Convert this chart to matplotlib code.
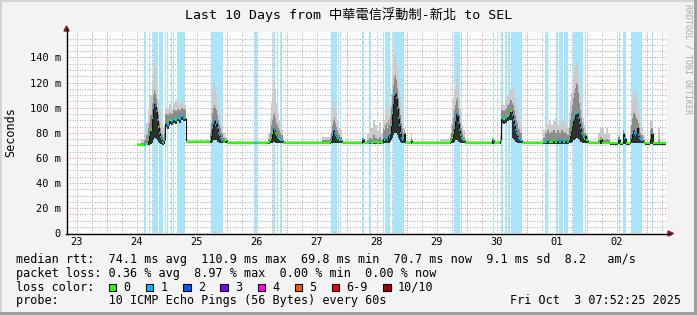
import matplotlib
matplotlib.use("Agg")
import matplotlib.pyplot as plt
from matplotlib.collections import LineCollection
from matplotlib.patches import Rectangle, Polygon
import numpy as np

W, H = 697, 315

# 24-minute RRA bins counted from Tue Sep 23 00:00 (60 bins per day)
bins = [
    90, 94, 97, 99, 101, 102, 103, 105, 106, 107, 108, 109, 110, 111, 112, 113, 114, 115, 116, 117,
    118, 120, 122, 124, 126, 128, 130, 132, 134, 136, 138, 139,
    163, 164, 165, 166, 167, 168, 169, 170, 171, 172, 173, 174, 176, 178, 180, 207, 210,
    221, 223, 224, 225, 226, 227, 228, 229, 230, 231, 232, 233, 234, 236,
    275, 283, 284, 285, 286, 287, 288, 289, 290, 291, 292, 293, 295,
    315, 317, 320, 322, 324, 326, 328, 330, 332, 334,
    336, 337, 338, 339, 340, 341, 342, 343, 344, 345, 346, 347, 348, 349, 350, 351, 352, 353, 354, 355, 356, 357, 358,
    364, 365, 393,
    403, 404, 405, 406, 407, 408, 409, 410, 411, 412, 413, 414, 415, 416, 418,
    445, 446, 447,
    453, 454, 456, 458, 460, 462, 463, 465, 466, 467, 468, 469, 470, 471, 472, 473, 475,
    496, 498, 500, 502, 504, 506, 508, 510, 512, 514, 516, 518, 520,
    522, 523, 524, 525, 526, 527, 528, 529, 530, 531, 532, 533, 534, 535, 536, 537, 538, 539, 541,
    551, 553, 555, 557, 559, 561, 563, 571, 573, 576, 577, 579,
    583, 584, 585, 586, 587, 588, 589, 590, 591, 592, 593, 594, 596, 598,
    603, 604, 606, 611, 613, 619,
]

# median rtt (ms)
median = [
    70.5, 70.5, 71, 71, 74, 78, 82, 92, 100, 104, 101, 97, 90, 85, 80, 77, 75, 73, 72, 74,
    88, 86, 90, 89, 91, 90, 92, 91, 93, 92, 92, 72.5,
    74, 78, 84, 88, 90, 86, 88, 84, 80, 78, 76, 74, 73, 74, 72, 72, 72,
    72.5, 74, 76, 80, 84, 82, 80, 78, 77, 76, 75, 74, 74, 72,
    72, 73, 74, 78, 82, 80, 78, 77, 75, 76, 74, 74, 72,
    75, 72, 72, 73, 72, 73, 73, 72, 73, 72,
    76, 74, 75, 76, 74, 78, 77, 80, 86, 96, 104, 110, 112, 108, 100, 92, 86, 80, 76, 74, 75, 80, 72,
    74, 72, 72,
    73, 74, 76, 80, 84, 90, 96, 94, 88, 82, 78, 76, 75, 74, 72,
    75, 74, 72,
    74, 92, 91, 92, 93, 95, 97, 94, 90, 86, 82, 80, 78, 76, 75, 74, 72,
    72.5, 73, 74, 73, 73, 74, 73, 74, 73, 74, 73, 74, 73,
    75, 78, 82, 86, 90, 92, 95, 96, 96, 92, 88, 84, 80, 78, 77, 75, 78, 74, 72,
    72, 75, 72, 72, 72, 72, 71.5, 75, 71.5, 80, 76, 71.5,
    73, 76, 80, 82, 80, 78, 80, 85, 78, 76, 75, 74, 72, 71.5,
    76, 80, 71.5, 71.5, 71.5, 71.5,
]

# fastest ping of the bin (ms)
ping_lo = [
    69.5, 69.5, 70, 70, 70, 70.5, 71, 72, 74, 76, 76, 75, 74, 73, 72, 71, 71, 70, 70, 71,
    85, 83, 87, 86, 88, 87, 89, 88, 90, 89, 89, 71.5,
    72, 72, 73, 74, 74, 74, 74, 73, 73, 72, 72, 72, 72, 72, 71, 71, 71,
    71, 71.5, 72, 72, 73, 73, 72, 72, 72, 72, 72, 71.5, 71.5, 71,
    71, 71, 71.5, 72, 72, 72, 72, 72, 71.5, 72, 71.5, 71.5, 71,
    71.5, 71, 71, 71, 71, 71, 71, 71, 71, 71,
    72, 72, 72, 72, 72, 72, 72, 73, 74, 76, 78, 80, 80, 80, 78, 76, 74, 73, 72, 72, 72, 72, 71,
    71, 71, 71,
    71, 71.5, 72, 72, 73, 74, 74, 74, 73, 73, 72, 72, 72, 71.5, 71,
    71, 71, 71,
    71, 88, 87, 88, 89, 90, 90, 76, 75, 74, 73, 73, 72, 72, 72, 71.5, 71,
    71, 71, 71, 71, 71, 71, 71, 71, 71, 71, 71, 71, 71,
    71.5, 72, 72, 73, 74, 74, 75, 76, 76, 75, 74, 73, 73, 72, 72, 72, 72, 71.5, 71,
    71, 71, 71, 71, 71, 71, 70.5, 71, 70.5, 71, 71, 70.5,
    71, 71.5, 72, 72, 72, 72, 72, 72, 72, 72, 71.5, 71.5, 71, 70.5,
    71, 71, 70.5, 70.5, 70.5, 70.5,
]

# upper quartile of the pings (ms)
ping_mid = [
    71, 72, 74, 78, 84, 88, 94, 104, 110, 114, 112, 108, 100, 95, 88, 84, 80, 78, 76, 80,
    95, 94, 96, 95, 98, 97, 99, 98, 100, 99, 98, 73,
    80, 88, 96, 100, 102, 100, 98, 94, 90, 86, 84, 80, 76, 75, 72.8, 72.8, 72.8,
    75, 80, 86, 90, 94, 96, 92, 88, 86, 84, 82, 80, 78, 72.8,
    74, 76, 80, 86, 90, 92, 88, 85, 82, 80, 78, 77, 72.8,
    76, 72.8, 74, 76, 75, 78, 76, 75, 77, 74,
    84, 82, 86, 88, 84, 90, 86, 92, 100, 110, 118, 124, 126, 122, 116, 108, 100, 94, 88, 84, 80, 82, 72.8,
    76, 72.8, 73,
    76, 80, 86, 92, 98, 102, 106, 108, 100, 94, 88, 84, 80, 77, 72.8,
    76, 75, 72.8,
    76, 98, 97, 99, 102, 104, 106, 104, 102, 98, 94, 90, 88, 84, 82, 80, 72.8,
    76, 80, 82, 80, 81, 82, 80, 82, 80, 82, 81, 80, 78,
    84, 90, 96, 102, 108, 112, 116, 120, 118, 112, 104, 98, 92, 88, 84, 80, 80, 77, 72.8,
    74, 77, 75, 74, 75, 74, 72.3, 77, 72.3, 82, 78, 72.3,
    78, 86, 92, 96, 96, 94, 92, 90, 88, 84, 80, 78, 74, 72.3,
    82, 84, 72.3, 74, 72.3, 72.3,
]

# slowest ping of the bin (ms)
ping_hi = [
    72, 75, 80, 88, 98, 104, 110, 122, 130, 136, 132, 124, 114, 106, 100, 96, 92, 88, 84, 86,
    100, 99, 103, 100, 104, 106, 104, 103, 105, 103, 102, 74,
    88, 100, 112, 118, 120, 116, 110, 104, 100, 96, 90, 86, 80, 77, 73.5, 73.5, 73.5,
    80, 92, 104, 112, 118, 122, 114, 104, 100, 96, 90, 86, 82, 73.5,
    77, 80, 92, 100, 104, 106, 100, 96, 90, 86, 84, 82, 73.5,
    77, 73.5, 80, 88, 84, 90, 86, 82, 88, 80,
    96, 90, 100, 104, 96, 100, 94, 102, 112, 124, 134, 142, 144, 138, 130, 122, 114, 106, 98, 92, 86, 84, 73.5,
    80, 73.5, 75,
    80, 88, 100, 108, 114, 116, 124, 136, 116, 108, 100, 92, 86, 82, 73.5,
    77, 76, 73.5,
    80, 104, 102, 106, 110, 112, 114, 116, 116, 114, 108, 104, 100, 94, 90, 86, 73.5,
    82, 88, 86, 90, 86, 89, 92, 86, 90, 87, 91, 86, 84,
    96, 104, 112, 118, 124, 128, 132, 137, 134, 126, 118, 110, 104, 98, 92, 86, 84, 80, 73.5,
    80, 84, 84, 80, 84, 79, 73, 78, 73, 84, 80, 73,
    86, 98, 106, 112, 113, 112, 110, 106, 100, 94, 88, 84, 78, 73,
    90, 90, 73, 84, 73, 73,
]

# pings lost out of 10
lost = [
    0, 0, 1, 0, 0, 1, 0, 0, 1, 1, 1, 1, 1, 0, 1, 1, 1, 1, 0, 0,
    1, 1, 0, 1, 1, 0, 1, 1, 1, 1, 0, 0,
    0, 1, 1, 1, 1, 1, 1, 1, 1, 1, 1, 1, 0, 0, 0, 1, 0,
    0, 0, 0, 0, 1, 1, 0, 0, 1, 1, 0, 1, 1, 0,
    0, 0, 1, 1, 1, 1, 1, 1, 0, 1, 0, 1, 0,
    1, 0, 0, 1, 0, 0, 0, 0, 0, 0,
    1, 0, 1, 1, 1, 1, 1, 0, 0, 0, 1, 1, 1, 1, 1, 1, 1, 1, 1, 1, 1, 0, 0,
    0, 0, 0,
    0, 0, 0, 0, 1, 1, 1, 1, 1, 1, 0, 1, 1, 0, 0,
    0, 1, 0,
    0, 1, 0, 1, 0, 1, 0, 1, 1, 1, 1, 1, 1, 1, 1, 1, 0,
    0, 1, 1, 0, 0, 0, 0, 1, 1, 1, 0, 1, 1,
    0, 0, 0, 0, 1, 1, 1, 1, 1, 1, 1, 1, 1, 1, 0, 0, 1, 0, 0,
    0, 0, 0, 0, 0, 0, 0, 1, 0, 1, 1, 0,
    0, 1, 1, 1, 1, 1, 1, 0, 1, 1, 1, 1, 0, 0,
    0, 1, 0, 0, 0, 0,
]

# periods with packet loss (bins)
loss_start = [97.5, 101.7, 105.7, 111.7, 117.7, 120.3, 123.7, 126.3, 129.7, 164, 207.5,
              225.7, 230, 233, 284, 290.7, 293, 315, 322, 335.7, 338, 346, 407, 414, 446,
              454, 458.5, 461.5, 464, 498, 509.5, 512.3, 517.5, 525.7, 538, 571.7, 576.3,
              584, 604.7]
loss_end = [99, 103, 111, 116.3, 118.7, 121.3, 124.7, 127.3, 138.3, 176, 210,
            228, 231.3, 235.3, 290, 292, 294, 317, 323.7, 337.3, 343.5, 357, 413, 415.3, 447,
            456.5, 460, 463, 474.7, 501, 510.7, 516, 521, 536, 539.5, 573.3, 579,
            594.7, 606.3]

day_labels = ["23", "24", "25", "26", "27", "28", "29", "30", "01", "02"]
y_ticks = [0, 20, 40, 60, 80, 100, 120, 140]

loss_names = ["0", "1", "2", "3", "4", "5", "6-9", "10/10"]
loss_colors = ["#26ff00", "#00b8ff", "#0059ff", "#7e00ff", "#ff00ff", "#ff5500", "#ff0000", "#a10000"]
loss_class = [0, 1, 2, 3, 4, 5, 6, 6, 6, 6, 7]

title = "Last 10 Days from 中華電信浮動制-新北 to SEL"
rtt_text = "median rtt:  74.1 ms avg  110.9 ms max  69.8 ms min  70.7 ms now  9.1 ms sd  8.2   am/s"
loss_text = "packet loss: 0.36 % avg  8.97 % max  0.00 % min  0.00 % now"
probe_text = "probe:       10 ICMP Echo Pings (56 Bytes) every 60s"
stamp_text = "Fri Oct  3 07:52:25 2025"

plt.rcParams["font.family"] = "DejaVu Sans Mono"
MONO = "DejaVu Sans Mono"


def fx(x):
    return x / W


def fy(y):
    return 1 - y / H


fig = plt.figure(figsize=(W / 100, H / 100), dpi=100)
fig.patch.set_facecolor("#f3f3f3")
ax = fig.add_axes([fx(66.5), fy(233.3), 600 / W, 201 / H])
ax.set_facecolor("white")
ax.set_xlim(19.7, 619.7)
ax.set_ylim(0, 160)
for s in ax.spines.values():
    s.set_visible(False)

# grid (dotted, red on major)
for b in range(15, 620, 15):
    major = b % 60 == 0
    ax.axvline(b, color="#e08c8c" if major else "#b0b0b0", lw=0.72, ls=(0, (1, 1.5)), zorder=0)
for v in range(5, 160, 5):
    major = v % 20 == 0
    ax.axhline(v, color="#e08c8c" if major else "#b0b0b0", lw=0.72, ls=(0, (1, 1.5)), zorder=0)

# loss background
for s, e in zip(loss_start, loss_end):
    ax.axvspan(s, e, color="#aae4fa", lw=0, zorder=1)

# smoke
x = np.array(bins, dtype=float)
ax.fill_between(x, ping_lo, ping_hi, step="post", color="#cbcbcb", lw=0, zorder=2)
ax.fill_between(x, ping_lo, ping_mid, step="post", color="#8c8c8c", lw=0, zorder=3)
ax.fill_between(x, ping_lo, median, step="post", color="#303030", lw=0, zorder=4)

# median coloured by loss, black risers
segs, cols, risers = [], [], []
for i in range(len(bins) - 1):
    segs.append([(bins[i], median[i]), (bins[i + 1], median[i])])
    cols.append(loss_colors[loss_class[lost[i]]])
    risers.append([(bins[i + 1], median[i]), (bins[i + 1], median[i + 1])])
ax.add_collection(LineCollection(risers, colors="#111111", linewidths=0.8, zorder=5))
ax.add_collection(LineCollection(segs, colors=cols, linewidths=1.6, capstyle="butt", zorder=6))

ax.set_xticks([30 + 60 * k for k in range(len(day_labels))], day_labels)
ax.set_yticks(y_ticks, [f"{v} m" if v else "0" for v in y_ticks])
ax.tick_params(axis="x", length=0, pad=2.5, labelsize=7.5, colors="black")
ax.tick_params(axis="y", length=0, pad=4, labelsize=7.5, colors="black")

# axes with arrows
fig.add_artist(plt.Line2D([fx(66.5), fx(66.5)], [fy(233.5), fy(29)], color="black", lw=1.0))
fig.add_artist(plt.Line2D([fx(66), fx(670)], [fy(233.5), fy(233.5)], color="black", lw=1.0))
fig.add_artist(Polygon([(fx(64), fy(31)), (fx(69), fy(31)), (fx(66.5), fy(26))],
                       closed=True, color="#8c1c1c", transform=fig.transFigure))
fig.add_artist(Polygon([(fx(668), fy(231)), (fx(668), fy(236)), (fx(673.5), fy(233.5))],
                       closed=True, color="#8c1c1c", transform=fig.transFigure))

# frame
fig.add_artist(Rectangle((0, fy(1.5)), 1, 1.5 / H, color="#d4d4d4", transform=fig.transFigure, lw=0))
fig.add_artist(Rectangle((0, 0), 1.5 / W, 1, color="#d4d4d4", transform=fig.transFigure, lw=0))
fig.add_artist(Rectangle((fx(693.5), 0), 3.5 / W, 1, color="#9e9e9e", transform=fig.transFigure, lw=0))
fig.add_artist(Rectangle((0, 0), 1, 3.5 / H, color="#9e9e9e", transform=fig.transFigure, lw=0))

# texts
fig.text(fx(348.5), fy(19.3), title, ha="center", va="baseline", fontsize=9.5,
         family=[MONO, "Noto Sans CJK TC"])
fig.text(fx(10.5), fy(132.5), "Seconds", rotation=90, ha="center", va="center", fontsize=8.5)
fig.text(fx(688), fy(59), "RRDTOOL / TOBI OETIKER", rotation=270, ha="center", va="center",
         fontsize=6, color="#a8a8a8")

fig.text(fx(16), fy(263.3), rtt_text, ha="left", va="baseline", fontsize=8.5)
fig.text(fx(16), fy(277), loss_text, ha="left", va="baseline", fontsize=8.5)
fig.text(fx(16), fy(290.7), "loss color:", ha="left", va="baseline", fontsize=8.5)
bx = 108.7
for name, col in zip(loss_names, loss_colors):
    fig.add_artist(Rectangle((fx(bx), fy(291)), 7.5 / W, 7.5 / H, facecolor=col, edgecolor="black",
                             lw=0.8, transform=fig.transFigure))
    lx = bx + 14.6
    fig.text(fx(lx), fy(290.7), name, ha="left", va="baseline", fontsize=8.5)
    bx = lx + len(name) * 7.11 + 15.5
fig.text(fx(16), fy(304.3), probe_text, ha="left", va="baseline", fontsize=8.5)
fig.text(fx(680.5), fy(304.3), stamp_text, ha="right", va="baseline", fontsize=8.5)

fig.savefig("out.png", dpi=100, facecolor=fig.get_facecolor())
